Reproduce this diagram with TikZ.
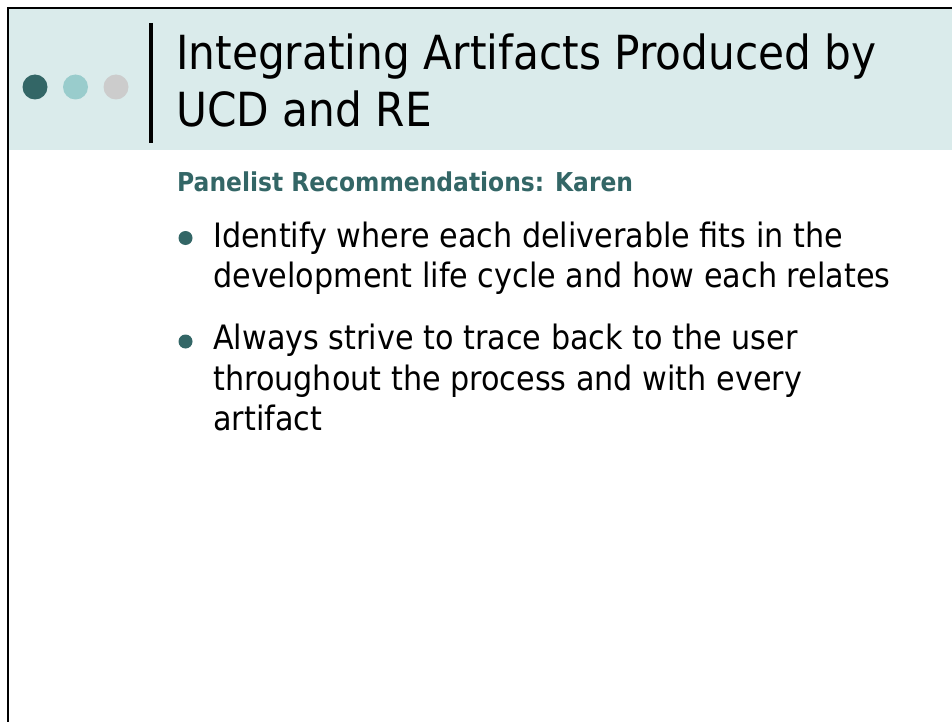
\documentclass[tikz,border=0pt]{standalone}
\usepackage{fontspec}
\newfontfamily\slidefont[FakeStretch=0.9]{DejaVu Sans}
\definecolor{band}{RGB}{218,235,235}
\definecolor{tealdark}{RGB}{51,102,102}
\definecolor{teallight}{RGB}{153,204,204}
\definecolor{dotgray}{RGB}{204,204,204}
\tikzset{
  dot/.style={circle, inner sep=0pt, minimum size=25pt},
  titletext/.style={anchor=base west, inner sep=0pt, font=\slidefont\fontsize{47}{56}\selectfont},
  subtext/.style={anchor=base west, inner sep=0pt, text=tealdark, font=\slidefont\bfseries\fontsize{26}{30}\selectfont},
  bodytext/.style={anchor=base west, inner sep=0pt, font=\slidefont\fontsize{33.6}{40}\selectfont},
  bulletdot/.style={circle, fill=tealdark, inner sep=0pt, minimum size=14pt}
}
\begin{document}
\begin{tikzpicture}[x=1pt, y=-1pt]
  \useasboundingbox (0,0) rectangle (952,722);
  \fill[white] (0,0) rectangle (952,722);
  % header band
  \fill[band] (9,9) rectangle (952,150);
  % slide frame (top and left edges)
  \draw[line width=2.5pt] (8,722) -- (8,8) -- (952,8);
  % three dots
  \node[dot, fill=tealdark] (d1) at (35,87) {};
  \node[dot, fill=teallight] (d2) at (75.5,87) {};
  \node[dot, fill=dotgray] (d3) at (116,87) {};
  % vertical divider
  \draw[line width=3.5pt] (151,23) -- (151,143);
  % title
  \node[titletext] (t1) at (176,70) {Integrating Artifacts Produced by};
  \node[titletext] (t2) at (176,127) {UCD and RE};
  % subtitle
  \node[subtext] (sub) at (177,191) {Panelist Recommendations: Karen};
  % bullets
  \node[bulletdot] (b1) at (185.5,238) {};
  \node[bodytext] (l1) at (213,247) {Identify where each deliverable fits in the};
  \node[bodytext] (l2) at (213,287) {development life cycle and how each relates};
  \node[bulletdot] (b2) at (185.5,341.5) {};
  \node[bodytext] (l3) at (213,349) {Always strive to trace back to the user};
  \node[bodytext] (l4) at (213,390) {throughout the process and with every};
  \node[bodytext] (l5) at (213,430) {artifact};
\end{tikzpicture}
\end{document}
